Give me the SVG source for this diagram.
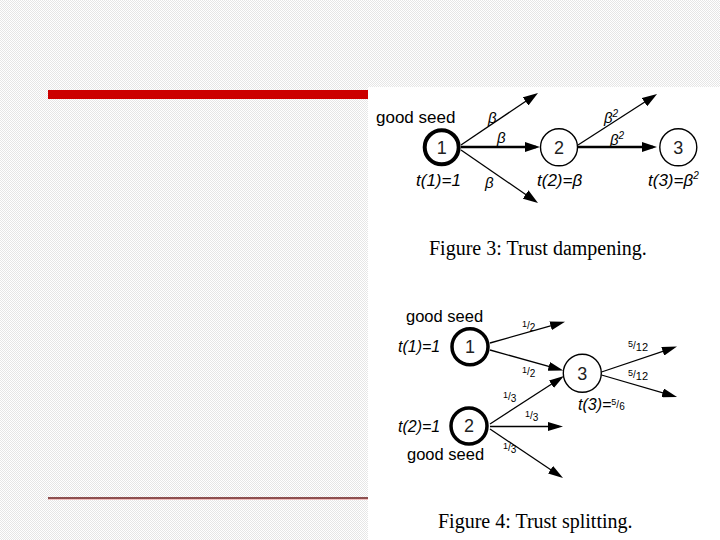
<svg xmlns="http://www.w3.org/2000/svg" width="720" height="540" viewBox="0 0 720 540">
<defs>
<pattern id="chk" width="2" height="2" patternUnits="userSpaceOnUse">
<rect width="2" height="2" fill="#ffffff"/>
<rect width="1" height="1" fill="#e6e6e6"/>
<rect x="1" y="1" width="1" height="1" fill="#e6e6e6"/>
</pattern>
<marker id="ah" viewBox="0 0 15 10" refX="11" refY="5" markerWidth="15" markerHeight="10" markerUnits="userSpaceOnUse" orient="auto">
<path d="M0,0 L15,5 L0,10 z" fill="#000"/>
</marker>
<marker id="ah4" viewBox="0 0 15 9" refX="11" refY="4.5" markerWidth="15" markerHeight="9" markerUnits="userSpaceOnUse" orient="auto">
<path d="M0,0 L15,4.5 L0,9 z" fill="#000"/>
</marker>
</defs>
<style>
.lbl{font-family:"Liberation Sans",Arial,sans-serif;fill:#000}
.it{font-family:"Liberation Sans",Arial,sans-serif;font-style:italic;fill:#000}
.num{font-family:"Liberation Sans",Arial,sans-serif;font-size:18px;text-anchor:middle;fill:#222}
.cap{font-family:"Liberation Serif","Times New Roman",serif;font-size:20px;fill:#000}
.thin{stroke:#000;stroke-width:1.3;fill:none}
.thick{stroke:#000;stroke-width:2.6;fill:none}
.fr{font-family:"Liberation Sans",Arial,sans-serif;fill:#000}
</style>
<rect width="720" height="540" fill="url(#chk)"/>
<rect x="368" y="87" width="352" height="453" fill="#ffffff"/>
<rect x="48" y="90" width="320" height="9" fill="#cc0000"/>
<line x1="48" y1="498" x2="368" y2="498" stroke="#6b1a1a" stroke-width="1.3"/>
<line x1="48" y1="499.5" x2="368" y2="499.5" stroke="#f2c0c0" stroke-width="1"/>

<g id="fig3">
<g id="connectors3">
<line class="thick" x1="461" y1="147" x2="536" y2="147" marker-end="url(#ah)"/>
<line class="thin" x1="461" y1="145" x2="534.7" y2="95.2" marker-end="url(#ah)"/>
<line class="thin" x1="461" y1="150" x2="534.7" y2="200.7" marker-end="url(#ah)"/>
<line class="thick" x1="578" y1="147" x2="653" y2="147" marker-end="url(#ah)"/>
<line class="thin" x1="578" y1="145" x2="653.7" y2="96.2" marker-end="url(#ah)"/>
</g>
<g id="n3-1">
<circle cx="441.7" cy="147.3" r="17" fill="#fff" stroke="#000" stroke-width="4"/>
<text class="num" x="441.7" y="153.5">1</text>
<text class="lbl" x="376" y="123" font-size="17">good seed</text>
<text class="it" x="416" y="186" font-size="17">t(1)=1</text>
</g>
<g id="n3-2">
<circle cx="559" cy="147.3" r="18.5" fill="#fff" stroke="#000" stroke-width="1.4"/>
<text class="num" x="559" y="153.5">2</text>
<text class="it" x="537" y="186" font-size="17">t(2)=β</text>
</g>
<g id="n3-3">
<circle cx="678.3" cy="147.3" r="18.5" fill="#fff" stroke="#000" stroke-width="1.4"/>
<text class="num" x="678.3" y="153.5">3</text>
<text class="it" x="648" y="186" font-size="17">t(3)=β<tspan font-size="10" dy="-7">2</tspan></text>
</g>
<text class="it" x="488" y="123" font-size="15">β</text>
<text class="it" x="497" y="143" font-size="15">β</text>
<text class="it" x="485" y="188" font-size="15">β</text>
<text class="it" x="604" y="123" font-size="15">β<tspan font-size="10" dy="-6">2</tspan></text>
<text class="it" x="610" y="145" font-size="15">β<tspan font-size="10" dy="-6">2</tspan></text>
<text class="cap" x="429" y="255">Figure 3: Trust dampening.</text>
</g>

<g id="fig4">
<g id="connectors4">
<line class="thin" stroke-width="1.5" x1="490" y1="343" x2="561.2" y2="322.8" marker-end="url(#ah4)"/>
<line class="thin" stroke-width="1.5" x1="490" y1="350" x2="559.4" y2="369.4" marker-end="url(#ah4)"/>
<line class="thin" stroke-width="1.5" x1="490" y1="424" x2="560.6" y2="378.2" marker-end="url(#ah4)"/>
<line class="thin" stroke-width="1.5" x1="490" y1="426.5" x2="559" y2="426.5" marker-end="url(#ah4)"/>
<line class="thin" stroke-width="1.5" x1="490" y1="429" x2="559.7" y2="475.8" marker-end="url(#ah4)"/>
<line class="thin" stroke-width="1.5" x1="601.5" y1="372" x2="673.2" y2="347.8" marker-end="url(#ah4)"/>
<line class="thin" stroke-width="1.5" x1="601.5" y1="375" x2="673.2" y2="395.9" marker-end="url(#ah4)"/>
</g>
<g id="n4-1">
<circle cx="470" cy="346.7" r="18" fill="#fff" stroke="#000" stroke-width="3.5"/>
<text class="num" x="470" y="353">1</text>
<text class="lbl" x="406" y="322" font-size="16.5">good seed</text>
<text class="it" x="398" y="352" font-size="16">t(1)=1</text>
</g>
<g id="n4-2">
<circle cx="469" cy="426" r="18" fill="#fff" stroke="#000" stroke-width="3.5"/>
<text class="num" x="469" y="432.3">2</text>
<text class="lbl" x="407" y="460" font-size="16.5">good seed</text>
<text class="it" x="398" y="432" font-size="16">t(2)=1</text>
</g>
<g id="n4-3">
<circle cx="582.3" cy="373.3" r="19" fill="#fff" stroke="#000" stroke-width="1.4"/>
<text class="num" x="582.3" y="379.6">3</text>
<text class="it" x="578" y="410" font-size="16">t(3)=<tspan font-size="9" font-style="normal" dy="-5">5</tspan><tspan font-size="10" font-style="normal" dy="3">/</tspan><tspan font-size="10" font-style="normal" dy="2">6</tspan></text>
</g>
<text class="fr" x="522" y="330"><tspan font-size="9" dy="-3">1</tspan><tspan font-size="10" dy="2">/</tspan><tspan font-size="10" dy="2">2</tspan></text>
<text class="fr" x="522" y="376"><tspan font-size="9" dy="-3">1</tspan><tspan font-size="10" dy="2">/</tspan><tspan font-size="10" dy="2">2</tspan></text>
<text class="fr" x="503" y="401"><tspan font-size="9" dy="-3">1</tspan><tspan font-size="10" dy="2">/</tspan><tspan font-size="10" dy="2">3</tspan></text>
<text class="fr" x="525" y="420"><tspan font-size="9" dy="-3">1</tspan><tspan font-size="10" dy="2">/</tspan><tspan font-size="10" dy="2">3</tspan></text>
<text class="fr" x="503" y="452"><tspan font-size="9" dy="-3">1</tspan><tspan font-size="10" dy="2">/</tspan><tspan font-size="10" dy="2">3</tspan></text>
<text class="fr" x="628" y="350"><tspan font-size="9" dy="-3">5</tspan><tspan font-size="10" dy="2">/</tspan><tspan font-size="11" dy="2">12</tspan></text>
<text class="fr" x="628" y="379"><tspan font-size="9" dy="-3">5</tspan><tspan font-size="10" dy="2">/</tspan><tspan font-size="11" dy="2">12</tspan></text>
<text class="cap" x="438" y="528">Figure 4: Trust splitting.</text>
</g>
</svg>
